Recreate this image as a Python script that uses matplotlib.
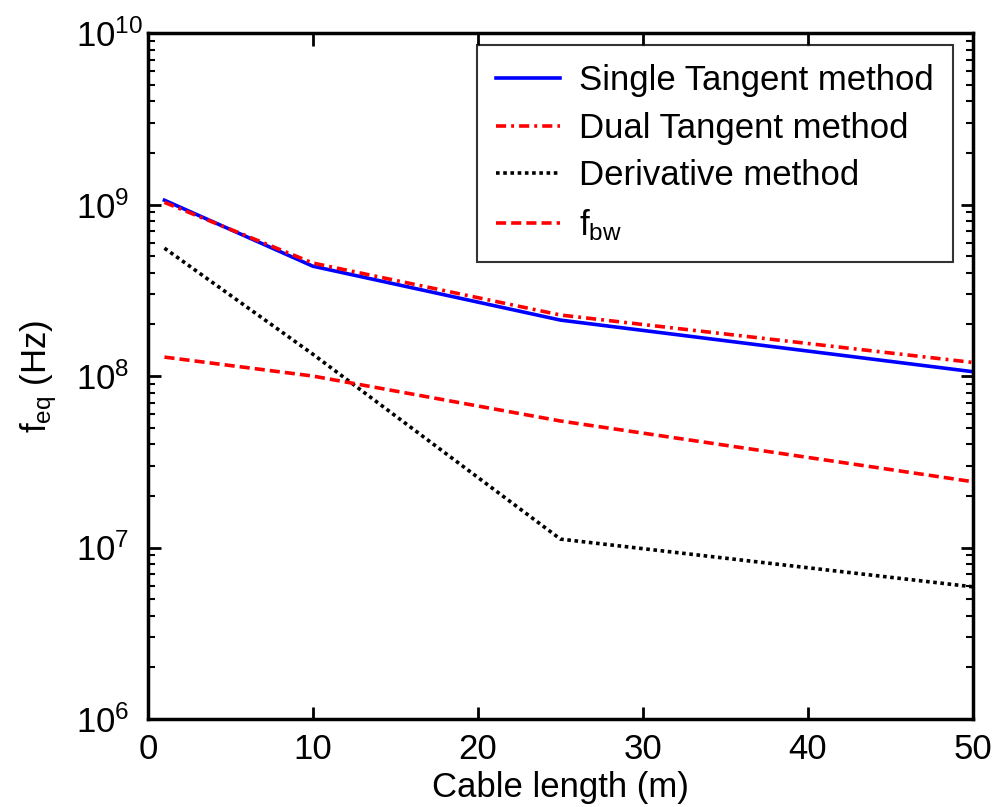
import numpy as np
import matplotlib
matplotlib.use("Agg")
import matplotlib.pyplot as plt
from matplotlib.ticker import LogLocator, NullFormatter

# ---- data ----
cable_len = [1, 10, 25, 50]
single_tangent = [1.06e9, 4.37e8, 2.12e8, 1.06e8]
dual_tangent = [1.03e9, 4.56e8, 2.27e8, 1.20e8]
derivative = [5.57e8, 1.34e8, 1.12e7, 5.9e6]
f_bw = [1.29e8, 1.0e8, 5.47e7, 2.42e7]

plt.rcParams['font.family'] = ['Liberation Sans', 'DejaVu Sans']
plt.rcParams['mathtext.fontset'] = 'custom'
plt.rcParams['mathtext.rm'] = 'Liberation Sans'
plt.rcParams['mathtext.it'] = 'Liberation Sans:italic'
plt.rcParams['mathtext.default'] = 'regular'

fig = plt.figure(figsize=(9.97, 8.07), dpi=100)
ax = fig.add_axes([0.1484, 0.109, 0.8275, 0.850])

lw = 2.6
ax.plot(cable_len, single_tangent, color='#0000ff', linestyle='-', lw=lw,
        label='Single Tangent method')
ax.plot(cable_len, dual_tangent, color='#ff0000', linestyle=(0, (2.8, 1.4, 0.8, 1.4)), lw=lw,
        label='Dual Tangent method')
ax.plot(cable_len, derivative, color='black', linestyle=(0, (1, 1)), lw=lw,
        label='Derivative method')
ax.plot(cable_len, f_bw, color='#ff0000', linestyle=(0, (2.8, 1.4)), lw=lw,
        label=r'f$_{bw}$')

ax.set_yscale('log')
ax.set_xlim(0, 50)
ax.set_ylim(1e6, 1e10)
ax.set_xticks([0, 10, 20, 30, 40, 50])
ax.yaxis.set_major_locator(LogLocator(base=10, numticks=10))
ax.yaxis.set_minor_locator(LogLocator(base=10, subs=np.arange(2, 10), numticks=20))
ax.yaxis.set_minor_formatter(NullFormatter())

ax.tick_params(which='both', direction='in', top=True, right=True,
               labelsize=25, width=2)
ax.tick_params(axis='x', pad=10)
# MATLAB-style: the "10" bases line up on the left, exponents hang to the right
ax.tick_params(axis='y', pad=52)
for lab in ax.get_yticklabels():
    lab.set_horizontalalignment('left')
ax.tick_params(which='major', length=9)
ax.tick_params(which='minor', length=5, width=1.5)
for s in ax.spines.values():
    s.set_linewidth(2.5)

ax.set_xlabel('Cable length (m)', fontsize=25, labelpad=4)
ax.set_ylabel(r'f$_{eq}$ (Hz)', fontsize=25, labelpad=12)

leg = ax.legend(loc='upper right', bbox_to_anchor=(0.9758, 0.9825),
                borderaxespad=0, fontsize=25, frameon=True, fancybox=False,
                handlelength=1.85, handletextpad=0.55, borderpad=0.55,
                labelspacing=0.42)
leg.get_frame().set_edgecolor('black')
leg.get_frame().set_linewidth(1.5)

fig.savefig('out.png', dpi=100)
